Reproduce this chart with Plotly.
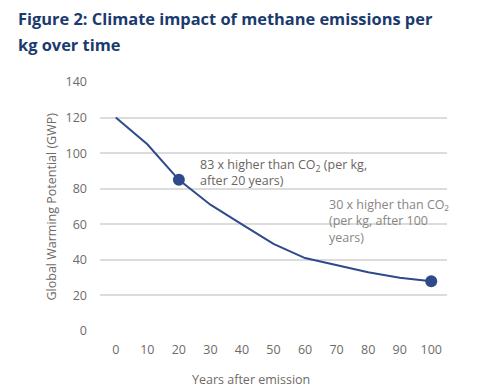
import plotly.graph_objects as go

years = [0, 10, 20, 30, 40, 50, 60, 70, 80, 90, 100]
gwp = [120, 105, 85, 71, 60, 49, 41, 37, 33, 30, 28]
marked_years = [20, 100]
marked_gwp = [85, 28]
x_ticks = [0, 10, 20, 30, 40, 50, 60, 70, 80, 90, 100]
y_ticks = [0, 20, 40, 60, 80, 100, 120, 140]

title_line1 = "Figure 2: Climate impact of methane emissions per"
title_line2 = "kg over time"
note_20 = "83 x higher than CO<sub>2</sub> (per kg,<br>after 20 years)"
note_100 = "30 x higher than CO₂<br>(per kg, after 100<br>years)"

navy = "#2e4a8a"
tick_col = "#6e6a66"
FONT = "Open Sans, sans-serif"

W, H = 493, 384
L, R, T, B = 92, 54, 74, 61
PW, PH = W - L - R, H - T - B


def px(x):
    return (x - L) / PW


def py(y):
    return (H - B - y) / PH


fig = go.Figure()
fig.add_trace(go.Scatter(x=years, y=gwp, mode="lines",
                         line=dict(color=navy, width=2), hoverinfo="skip"))
fig.add_trace(go.Scatter(x=marked_years, y=marked_gwp, mode="markers",
                         marker=dict(color=navy, size=12), hoverinfo="skip"))

fig.update_layout(
    width=W, height=H,
    margin=dict(l=L, r=R, t=T, b=B),
    paper_bgcolor="white", plot_bgcolor="white",
    showlegend=False,
    font=dict(family=FONT, color=tick_col, size=12.5),
)
fig.update_xaxes(range=[-5, 105], tickvals=x_ticks, showgrid=False, zeroline=False,
                 showline=False, ticks="outside", ticklen=0, ticklabelstandoff=7,
                 tickfont=dict(size=12.5, color=tick_col))
fig.update_yaxes(range=[0, 140], tickvals=y_ticks, showgrid=True, gridcolor="#dcdcdc",
                 gridwidth=1.5, zeroline=False, showline=False,
                 ticklabelstandoff=12, tickfont=dict(size=12.5, color=tick_col))

# title (two lines, looser spacing)
for txt, yc in [(title_line1, 11), (title_line2, 36)]:
    fig.add_annotation(xref="paper", yref="paper", x=px(9), y=py(yc),
                       xanchor="left", yanchor="middle", align="left", borderpad=0,
                       text="<b>" + txt + "</b>", showarrow=False,
                       font=dict(family=FONT, size=16.4, color="#1b3a6e"))
# axis titles
fig.add_annotation(xref="paper", yref="paper", x=px(243), y=py(371),
                   xanchor="center", yanchor="middle", text="Years after emission",
                   showarrow=False, font=dict(size=12.5, color=tick_col))
fig.add_annotation(xref="paper", yref="paper", x=px(43), y=0.5,
                   xanchor="center", yanchor="middle", textangle=-90,
                   text="Global Warming Potential (GWP)",
                   showarrow=False, font=dict(size=12.5, color=tick_col))
# notes
fig.add_annotation(xref="paper", yref="paper", x=px(190), y=py(146),
                   xanchor="left", yanchor="top", align="left", text=note_20,
                   showarrow=False, font=dict(size=12.5, color="#6b6560"))
fig.add_annotation(xref="paper", yref="paper", x=px(319), y=py(186),
                   xanchor="left", yanchor="top", align="left", text=note_100,
                   showarrow=False, font=dict(size=12.5, color="#8a8682"))

fig.write_html("out.html")
